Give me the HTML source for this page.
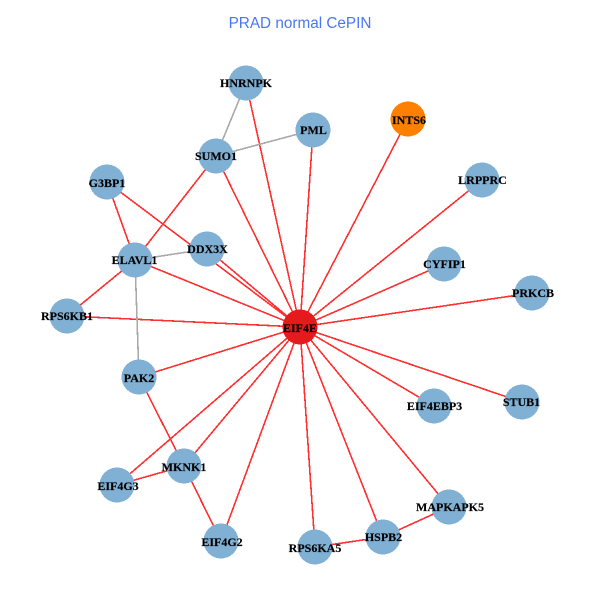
<!DOCTYPE html>
<html><head><meta charset="utf-8"><style>
html,body{margin:0;padding:0;background:#fff;width:600px;height:600px;overflow:hidden}
svg{display:block}
.n{font:bold 12px "Liberation Serif",serif;text-anchor:middle;fill:#000;stroke:#000;stroke-width:.15}
</style></head><body>
<svg width="600" height="600" viewBox="0 0 600 600" xmlns="http://www.w3.org/2000/svg">
<rect width="600" height="600" fill="#fff"/>
<text x="300" y="28" font-family="Liberation Sans, sans-serif" font-size="15.3" fill="#4a76f5" text-anchor="middle">PRAD normal CePIN</text>
<g stroke="#ff3030" stroke-width="1.6" fill="none" shape-rendering="crispEdges">
<path d="M300 327L246 83M300 327L216 156M300 327L313 130M300 327L408 119M300 327L482 180M300 327L444 264M300 327L532 293M300 327L522 402M300 327L434 406M300 327L449 507M300 327L383 537M300 327L315 547M300 327L221 541M300 327L184 466M300 327L117 485M300 327L139 377M300 327L67 316M300 327L135 260M300 327L207 249M300 327L107 182"/>
<path d="M107 182L135 260M216 156L135 260M135 260L67 316M139 377L184 466M184 466L117 485M184 466L221 541M315 547L383 537M383 537L449 507"/>
</g>
<g stroke="#a9a9a9" stroke-width="1.6" fill="none" shape-rendering="crispEdges">
<path d="M246 83L216 156M216 156L313 130M135 260L207 249M135 260L139 377"/>
</g>
<g fill="#80b0d3" shape-rendering="crispEdges">
<circle cx="246" cy="83" r="17.5"/><circle cx="216" cy="156" r="17.5"/><circle cx="313" cy="130" r="17.5"/>
<circle cx="482" cy="180" r="17.5"/><circle cx="444" cy="264" r="17.5"/><circle cx="532" cy="293" r="17.5"/>
<circle cx="107" cy="182" r="17.5"/><circle cx="207" cy="249" r="17.5"/><circle cx="135" cy="260" r="17.5"/>
<circle cx="67" cy="316" r="17.5"/><circle cx="139" cy="377" r="17.5"/><circle cx="184" cy="466" r="17.5"/>
<circle cx="117" cy="485" r="17.5"/><circle cx="221" cy="541" r="17.5"/><circle cx="315" cy="547" r="17.5"/>
<circle cx="383" cy="537" r="17.5"/><circle cx="449" cy="507" r="17.5"/><circle cx="434" cy="406" r="17.5"/>
<circle cx="522" cy="402" r="17.5"/>
</g>
<circle cx="408" cy="119" r="17.5" fill="#ff7f00" shape-rendering="crispEdges"/>
<circle cx="300" cy="327" r="17.5" fill="#e41a1c" shape-rendering="crispEdges"/>
<g>
<text class="n" x="246" y="87">HNRNPK</text>
<text class="n" x="216" y="160">SUMO1</text>
<text class="n" x="313.500" y="134">PML</text>
<text class="n" x="409" y="124">INTS6</text>
<text class="n" x="482.500" y="184">LRPPRC</text>
<text class="n" x="444.500" y="268">CYFIP1</text>
<text class="n" x="533" y="297">PRKCB</text>
<text class="n" x="107" y="187">G3BP1</text>
<text class="n" x="207.500" y="253">DDX3X</text>
<text class="n" x="134.500" y="264">ELAVL1</text>
<text class="n" x="67" y="320">RPS6KB1</text>
<text class="n" x="139" y="382">PAK2</text>
<text class="n" x="184" y="471">MKNK1</text>
<text class="n" x="118" y="490">EIF4G3</text>
<text class="n" x="222" y="546">EIF4G2</text>
<text class="n" x="300" y="332">EIF4E</text>
<text class="n" x="315" y="552">RPS6KA5</text>
<text class="n" x="383.500" y="541">HSPB2</text>
<text class="n" x="450" y="511">MAPKAPK5</text>
<text class="n" x="434.500" y="410">EIF4EBP3</text>
<text class="n" x="521.500" y="406">STUB1</text>
</g>
</svg>
</body></html>
